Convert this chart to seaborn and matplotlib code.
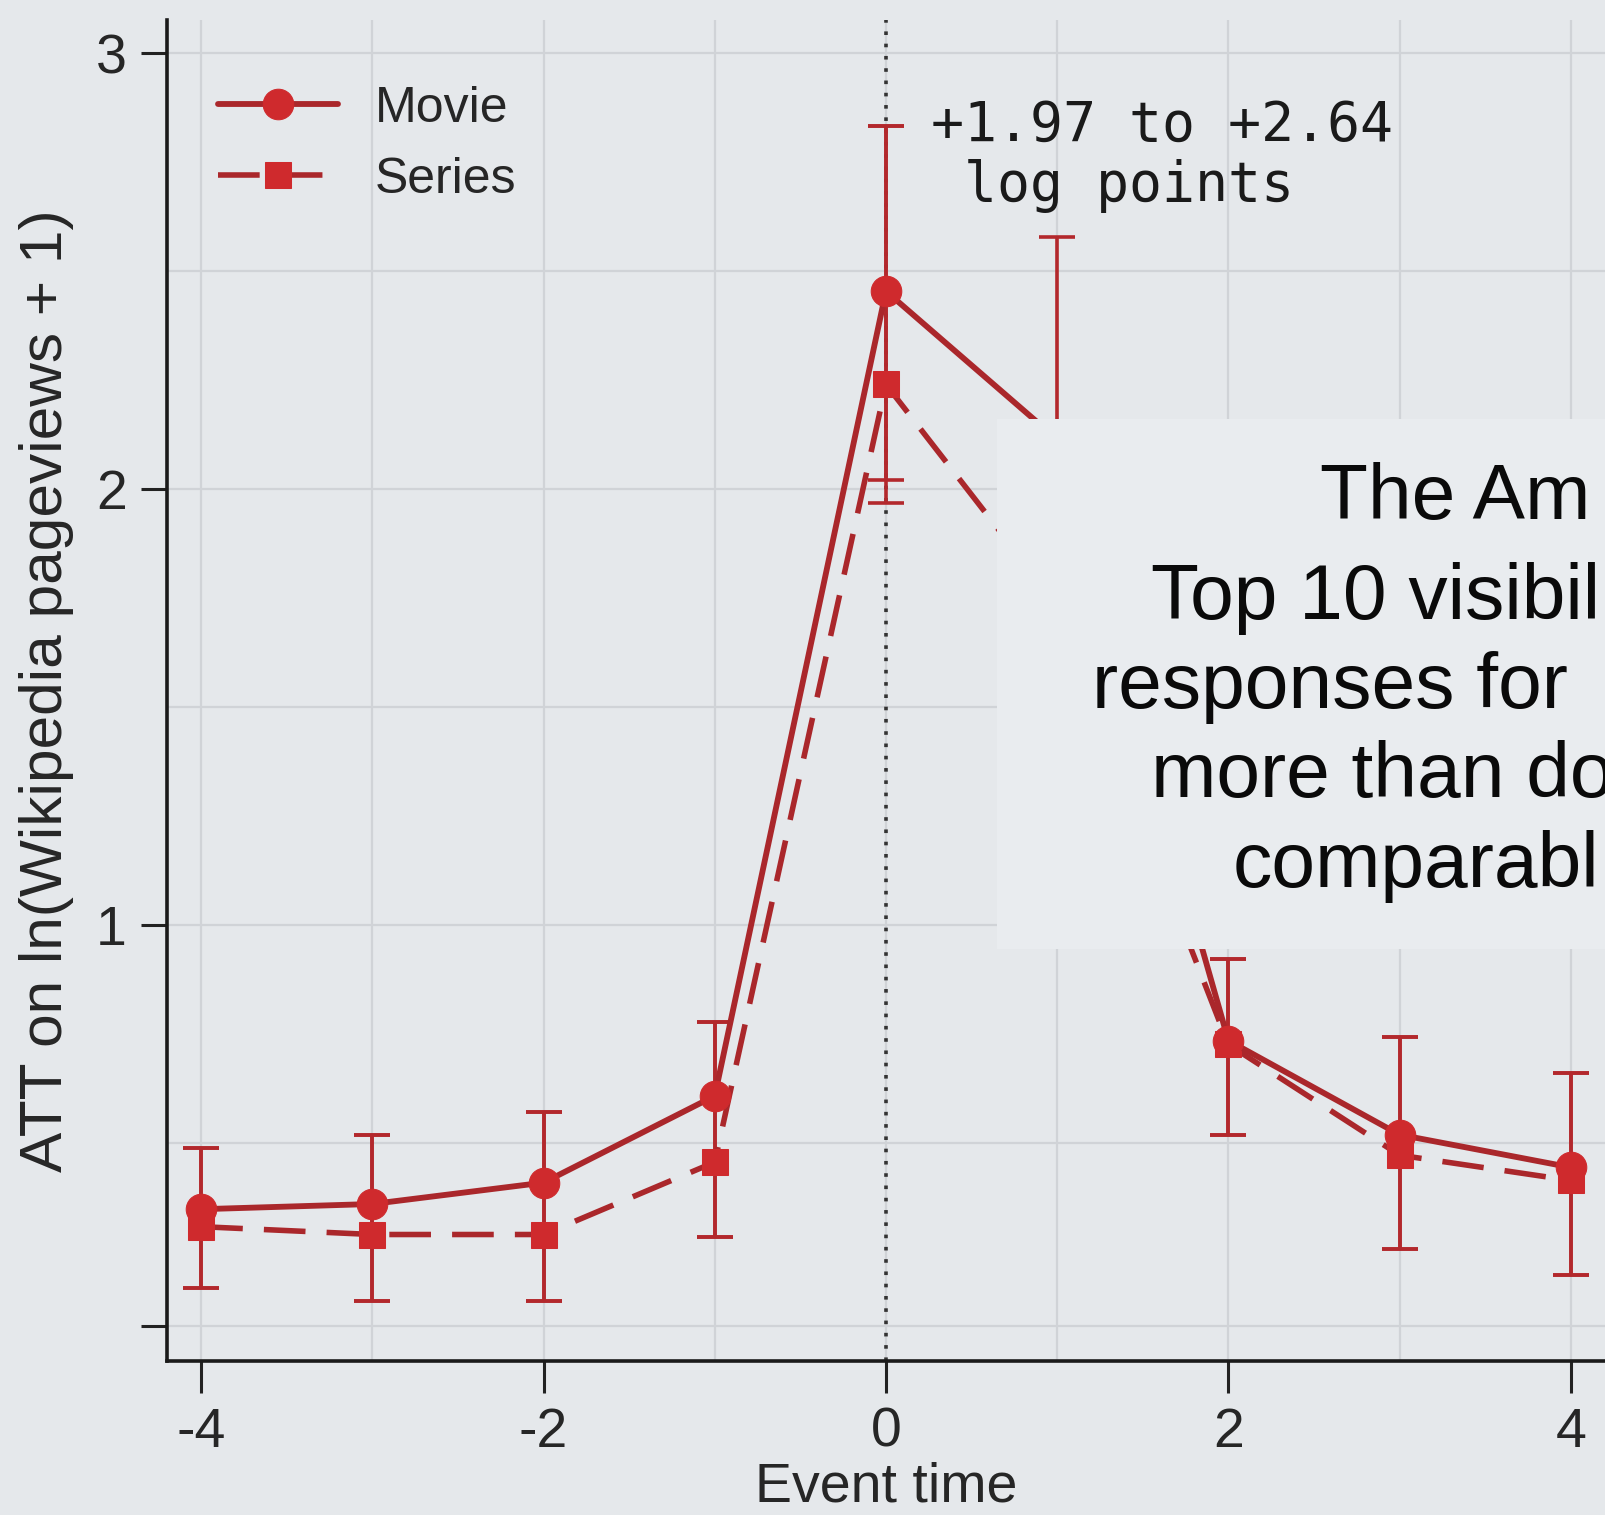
import matplotlib
matplotlib.use("Agg")
import matplotlib.pyplot as plt
from matplotlib.patches import Rectangle
import seaborn as sns
import pandas as pd
import numpy as np

# ---- data ----
event_time = [-4, -3, -2, -1, 0, 1, 2, 3, 4]
movie_att = [0.348, 0.360, 0.409, 0.608, 2.454, 2.114, 0.735, 0.519, 0.444]
movie_lo  = [0.168, 0.137, 0.137, 0.285, 2.020, 1.650, 0.519, 0.257, 0.196]
movie_hi  = [0.489, 0.519, 0.571, 0.777, 2.834, 2.578, 0.923, 0.742, 0.660]
series_att = [0.308, 0.290, 0.290, 0.456, 2.240, 1.734, 0.726, 0.472, 0.414]
series_lo  = [0.168, 0.137, 0.137, 0.285, 1.968, 1.330, 0.519, 0.257, 0.196]
series_hi  = [0.489, 0.519, 0.571, 0.777, 2.834, 2.140, 0.923, 0.742, 0.660]
labels = ["Movie", "Series"]
x_ticks = [-4, -2, 0, 2, 4]
y_ticks = [0.08, 1, 2, 3]
y_ticklabels = ["", "1", "2", "3"]
annot_lines = ["+1.97 to +2.64", " log points"]
box_lines = ["The Am", "Top 10 visibil", "responses for", "more than do", "comparabl"]

df = pd.DataFrame({
    "event": event_time * 2,
    "att": movie_att + series_att,
    "lo": movie_lo + series_lo,
    "hi": movie_hi + series_hi,
    "type": [labels[0]] * len(event_time) + [labels[1]] * len(event_time),
})

# ---- style ----
bg = "#e5e8eb"
grid_c = "#d0d3d7"
line_c = "#aa272b"
mark_c = "#cf2a2d"
err_c = "#b3282c"

sns.set_theme(style="white")
plt.rcParams["font.family"] = ["Liberation Sans", "DejaVu Sans"]

fig = plt.figure(figsize=(16.05, 15.15), dpi=100, facecolor=bg)
ax = fig.add_axes([0.104, 0.1017, 0.896, 0.8848])
ax.set_facecolor(bg)

ax.set_xlim(-4.2, 4.2)
ax.set_ylim(0, 3.075)

# grid
for xv in range(-4, 5):
    ax.axvline(xv, color=grid_c, lw=1.6, zorder=0)
for yv in [0.08, 0.5, 1.0, 1.5, 2.0, 2.5, 3.0]:
    ax.axhline(yv, color=grid_c, lw=1.6, zorder=0)

ax.axvline(0, color="#333333", lw=2.6, ls=(0, (1, 2.4)), zorder=1)

# error bars
for name in labels:
    sub = df[df["type"] == name]
    ax.errorbar(sub["event"], sub["att"],
                yerr=[sub["att"] - sub["lo"], sub["hi"] - sub["att"]],
                fmt="none", ecolor=err_c, elinewidth=2.6, capsize=13, capthick=2.6, zorder=2)

# lines with markers
sns.lineplot(data=df[df["type"] == labels[1]], x="event", y="att", ax=ax,
             color=line_c, lw=4, marker="s", markersize=19, markerfacecolor=mark_c,
             markeredgecolor=mark_c, dashes=False, label=labels[1], zorder=3)
ax.lines[-1].set_linestyle((0, (7.5, 3.8)))
sns.lineplot(data=df[df["type"] == labels[0]], x="event", y="att", ax=ax,
             color=line_c, lw=4.2, marker="o", markersize=22, markerfacecolor=mark_c,
             markeredgecolor=mark_c, label=labels[0], zorder=4)

# overlay box
ax.add_patch(Rectangle((0.65, 0.946), 5.0, 2.161 - 0.946, facecolor="#e9ecef",
                       edgecolor="none", zorder=6))
box_pos = [(2.533, 1.931), (1.547, 1.703), (1.206, 1.497), (1.547, 1.293), (2.025, 1.087)]
for t, (bx, by) in zip(box_lines, box_pos):
    ax.text(bx, by, t, fontsize=56.5, color="#0a0a0a", ha="left", va="baseline", zorder=7)

ax.text(0.262, 2.798, annot_lines[0], family="DejaVu Sans Mono", fontsize=39.5,
        color="#1a1a1a", ha="left", va="baseline", zorder=7)
ax.text(0.262, 2.660, annot_lines[1], family="DejaVu Sans Mono", fontsize=39.5,
        color="#1a1a1a", ha="left", va="baseline", zorder=7)

# axes
ax.set_xticks(x_ticks)
ax.set_xticklabels([str(v) for v in x_ticks])
ax.set_yticks(y_ticks)
ax.set_yticklabels(y_ticklabels)
ax.tick_params(axis="x", direction="out", length=23, width=2.2, color="#222222",
               labelsize=40, pad=10, bottom=True)
ax.tick_params(axis="y", direction="out", length=19, width=2.2, color="#222222",
               labelsize=40, pad=10, left=True)
for s in ["top", "right"]:
    ax.spines[s].set_visible(False)
for s in ["left", "bottom"]:
    ax.spines[s].set_color("#1a1a1a")
    ax.spines[s].set_linewidth(2.6)
ax.set_xlabel("Event time", fontsize=40, labelpad=2)
ax.set_ylabel("ATT on ln(Wikipedia pageviews + 1)", fontsize=43.5, labelpad=16)

h, l = ax.get_legend_handles_labels()
order = [l.index(labels[0]), l.index(labels[1])]
leg = ax.legend([h[i] for i in order], [l[i] for i in order], loc="upper left",
                bbox_to_anchor=(0.004, 0.985), frameon=False, fontsize=36,
                handlelength=2.4, handletextpad=0.75, labelspacing=0.5)
leg.set_zorder(8)

fig.savefig("out.png", dpi=100, facecolor=bg)
